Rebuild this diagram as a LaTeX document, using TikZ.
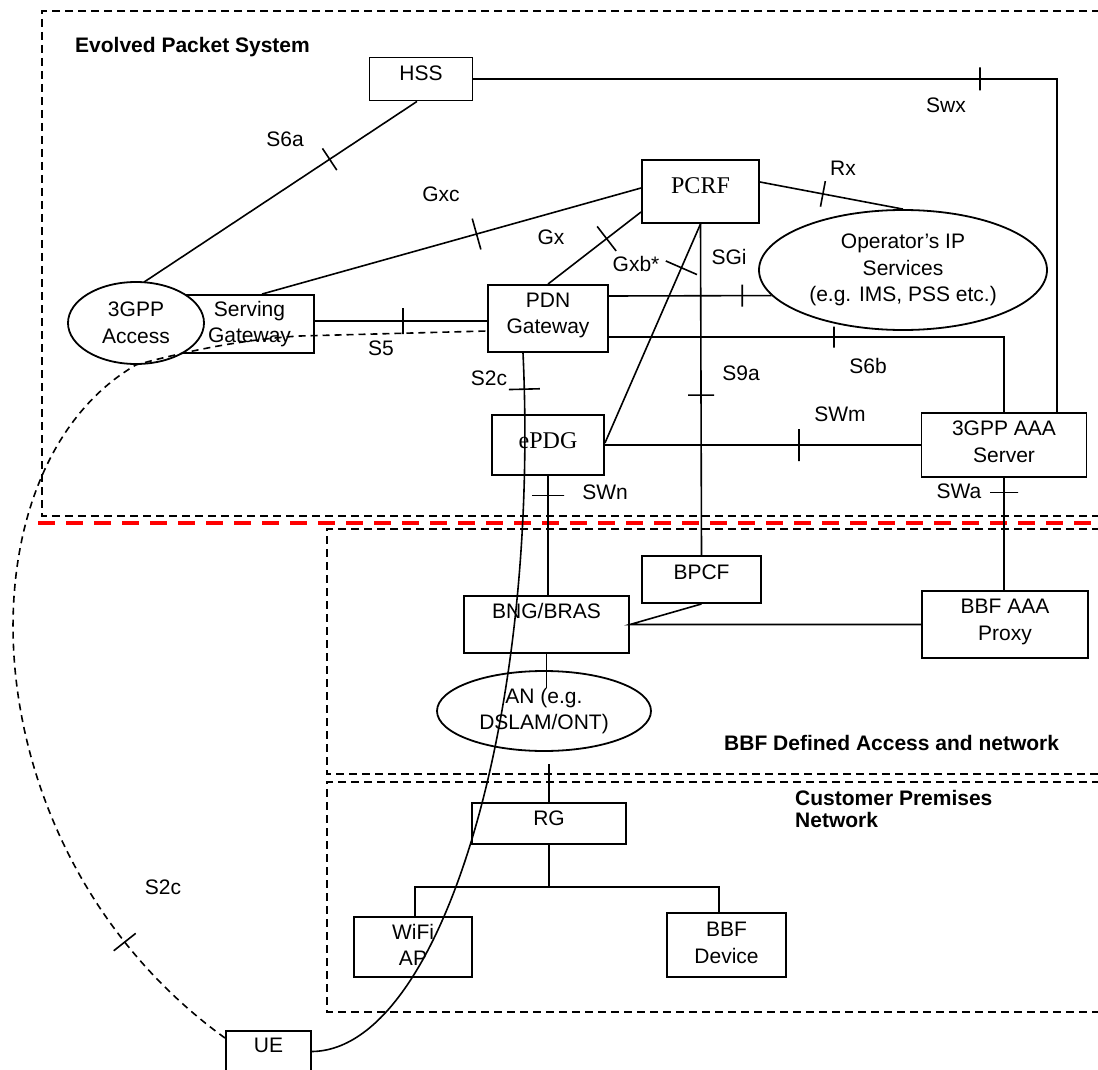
\documentclass[tikz,border=0pt]{standalone}
\usepackage{fontspec}
\setmainfont{Liberation Sans}
\newfontfamily\boxserif{Liberation Serif}
\usetikzlibrary{shapes.geometric,calc}
\definecolor{splitred}{RGB}{255,0,0}

\begin{document}
\begin{tikzpicture}[
  x=1pt,y=-1pt,
  every node/.style={font=\fontsize{21}{26.5}\selectfont},
  box/.style={draw,line width=1.9pt,align=center,inner sep=0pt,text depth=10pt},
  oval/.style={draw,ellipse,line width=1.8pt,align=center,inner sep=0pt},
  link/.style={line width=1.6pt},
  region/.style={line width=1.6pt,dash pattern=on 8pt off 5pt},
  tick/.style={sloped,draw,solid,line width=1.6pt,inner sep=0pt,
               minimum width=0pt,minimum height=26pt},
  lbl/.style={inner sep=0pt},
  area/.style={font=\bfseries\fontsize{21}{22}\selectfont,inner sep=0pt,align=left},
]
\useasboundingbox (0,0) rectangle (1098,1070);

%% Domain borders
\draw[region] (1100,11) -- (42,11) -- (42,516) -- (1100,516);
\draw[splitred,line width=4pt,dash pattern=on 17pt off 11pt] (38,523) -- (1100,523);
\draw[region] (1100,529) -- (327,529) -- (327,774) -- (1100,774);
\draw[region] (1100,782) -- (327,782) -- (327,1012) -- (1100,1012);

\node[area,anchor=base west] (eps) at (75,53) {Evolved Packet System};
\node[area,anchor=base west] (bbf) at (724,750) {BBF Defined Access and network};
\node[area,anchor=west] (cpn) at (795,809) {Customer Premises\\Network};

%% EPS entities
\node[box,minimum width=103pt,minimum height=43pt,text depth=12pt] (hss) at (421,79) {HSS};
\node[box,minimum width=117pt,minimum height=63pt,text depth=12pt,
      font=\boxserif\fontsize{24}{28}\selectfont] (pcrf) at (700.5,191.5) {PCRF};
\node[box,minimum width=129pt,minimum height=58pt,text depth=4pt] (sgw) at (249.5,324) {Serving\\Gateway};
\node[oval,fill=white,minimum width=136pt,minimum height=82pt] (acc) at (136,323) {3GPP\\Access};
\node[box,minimum width=120pt,minimum height=67pt] (pdn) at (548,318.5) {PDN\\Gateway};
\node[oval,minimum width=288pt,minimum height=120pt] (ops) at (903,270)
  {Operator’s IP\\Services\\(e.g. IMS, PSS etc.)};
\node[box,minimum width=112pt,minimum height=60pt,text depth=8pt,
      font=\boxserif\fontsize{24}{28}\selectfont] (epdg) at (548,445) {ePDG};
\node[box,minimum width=165pt,minimum height=64pt,text depth=7pt] (aaa) at (1004,445) {3GPP AAA\\Server};

%% BBF access and customer premises
\node[box,minimum width=119pt,minimum height=47pt,text depth=14pt] (bpcf) at (701.5,579.5) {BPCF};
\node[box,minimum width=165pt,minimum height=57pt,text depth=0pt] (bng) at (546.5,624.5) {BNG/BRAS\\\mbox{}};
\node[box,minimum width=166pt,minimum height=67pt,text depth=9pt] (proxy) at (1005,624.5) {BBF AAA\\Proxy};
\node[oval,minimum width=214pt,minimum height=80pt] (an) at (544,711) {AN (e.g.\\DSLAM/ONT)};
\node[box,minimum width=154pt,minimum height=41pt,text depth=11pt] (rg) at (549,823.5) {RG};
\node[box,minimum width=118pt,minimum height=60pt,text depth=4pt] (wifi) at (413,947) {WiFi\\AP};
\node[box,minimum width=119pt,minimum height=64pt,text depth=4pt] (bbfdev) at (726.5,945) {BBF\\Device};
\node[box,minimum width=85pt,minimum height=41pt,text depth=12pt] (ue) at (268.5,1051.5) {UE};

%% Reference points
\draw[link] ([shift={(-4,0)}]hss.south) -- ([shift={(8,1)}]acc.north) node[tick,pos=0.32]{};
\draw[link] (hss.east) -| ([shift={(53,0)}]aaa.north) node[tick,minimum height=23pt,pos=0.434]{};
\draw[link] ([shift={(12.5,0)}]sgw.north) -- ([shift={(0,-3.5)}]pcrf.west)
  node[tick,minimum height=32pt,pos=0.566]{};
\draw[link] ([shift={(0,20.5)}]pcrf.west) -- (pdn.north) node[tick,minimum height=31pt,pos=0.37]{};
\draw[link] (pcrf.south) -- ([shift={(0,-2)}]epdg.east) node[tick,minimum height=34pt,pos=0.2]{};
\draw[link] ([shift={(0,-9.5)}]pcrf.east) -- (ops.north) node[tick,pos=0.44]{};
\draw[link] (pcrf.south) -- (bpcf.north) node[tick,pos=0.517]{};
\draw[link] ([shift={(0,-3)}]sgw.east) -- ([shift={(0,2.5)}]pdn.west) node[tick,pos=0.51]{};
\draw[link] ([shift={(0,-22.5)}]pdn.east) -- (ops.191) node[tick,minimum height=22pt,pos=0.82]{};
\draw[link] ([shift={(0,18.5)}]pdn.east) -| (aaa.north) node[tick,minimum height=21pt,pos=0.285]{};
\draw[link] (epdg.east) -- (aaa.west) node[tick,minimum height=32pt,pos=0.614]{};
\draw[link] (epdg.south) -- (epdg.south |- bng.north) node[tick,minimum height=32pt,pos=0.165]{};
\draw[link] (aaa.south) -- (aaa.south |- proxy.north) node[tick,minimum height=28pt,pos=0.13]{};

%% S2c from the UE
\draw[link,dash pattern=on 7pt off 5pt] ([shift={(0,8)}]ue.north west)
  .. controls (-35,850) and (-45,470) .. (acc.south) node[tick,minimum height=28pt,pos=0.15]{}
  .. controls (165,357) and (230,340) .. (300,336)
  -- ([shift={(0,12.5)}]pdn.west);
\draw[link] ([shift={(-25,0)}]pdn.south)
  .. controls (540,720) and (440,1050) .. (ue.east) node[tick,minimum height=31pt,pos=0.033]{};

%% Access chain
\draw[link] (bpcf.south) -- (bng.east) -- (proxy.west);
\draw[link] (bng.south) -- ++(0,34);
\draw[link] ([shift={(0,-38)}]rg.north) -- (rg.north);
\draw[link] (rg.south) -- ++(0,42) coordinate (fork);
\draw[link] ([shift={(2,0)}]wifi.north) |- (fork) -| ([shift={(-7.5,0)}]bbfdev.north);

%% Labels
\node[lbl] (l-s6a) at (285,139) {S6a};
\node[lbl] (l-swx) at (946,105) {Swx};
\node[lbl] (l-gxc) at (441,194) {Gxc};
\node[lbl] (l-gx) at (551,237) {Gx};
\node[lbl] (l-gxb) at (636,264) {Gxb*};
\node[lbl] (l-rx) at (843,168) {Rx};
\node[lbl] (l-sgi) at (729,257) {SGi};
\node[lbl] (l-s5) at (381,348) {S5};
\node[lbl] (l-s2c) at (489,378) {S2c};
\node[lbl] (l-s9a) at (741,373) {S9a};
\node[lbl] (l-s6b) at (868,366) {S6b};
\node[lbl] (l-swm) at (840,414) {SWm};
\node[lbl] (l-swn) at (605,492) {SWn};
\node[lbl] (l-swa) at (959,491) {SWa};
\node[lbl] (l-s2cue) at (163,887) {S2c};

\end{tikzpicture}
\end{document}
